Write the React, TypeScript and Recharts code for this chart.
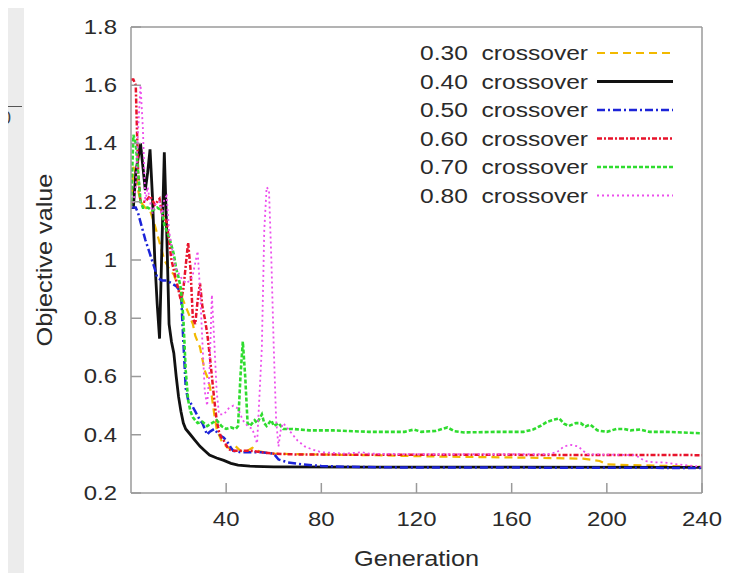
import { LineChart, Line, XAxis, YAxis, Legend, Label } from "recharts";

const RATES = ["0.30", "0.40", "0.50", "0.60", "0.70", "0.80"];
const GEN_TICKS = [40, 80, 120, 160, 200, 240];
const OBJ_TICKS = [0.2, 0.4, 0.6, 0.8, 1, 1.2, 1.4, 1.6, 1.8];

// [generation, objective value]
const cx30: [number, number][] = [
  [0, 1.18], [1, 1.32], [2, 1.3], [3, 1.24], [4, 1.2], [6, 1.18], [8, 1.17], [10, 1.12],
  [12, 1.06], [14, 1.0], [16, 0.97], [18, 0.95], [20, 0.9], [22, 0.86], [24, 0.82], [26, 0.78],
  [27, 0.74], [28, 0.72], [29, 0.7], [30, 0.66], [31, 0.62], [32, 0.6], [33, 0.57], [34, 0.53],
  [35, 0.47], [36, 0.42], [37, 0.4], [38, 0.38], [40, 0.36], [42, 0.35], [44, 0.36], [46, 0.345],
  [48, 0.34], [51, 0.355], [53, 0.345], [56, 0.34], [60, 0.335], [80, 0.332], [100, 0.33],
  [130, 0.325], [160, 0.322], [190, 0.318], [197, 0.31], [200, 0.298], [220, 0.294], [240, 0.29],
];
const cx40: [number, number][] = [
  [0, 1.18], [1, 1.18], [2, 1.3], [4, 1.4], [5, 1.32], [6, 1.24], [7, 1.3], [8, 1.38], [9, 1.22],
  [10, 1.0], [11, 0.85], [12, 0.73], [13, 1.05], [14, 1.37], [15, 1.1], [16, 0.78], [17, 0.72],
  [18, 0.68], [19, 0.6], [20, 0.53], [21, 0.48], [22, 0.44], [23, 0.42], [25, 0.4], [27, 0.38],
  [29, 0.36], [31, 0.345], [33, 0.33], [36, 0.32], [39, 0.312], [42, 0.302], [45, 0.296],
  [50, 0.292], [60, 0.29], [100, 0.289], [240, 0.288],
];
const cx50: [number, number][] = [
  [0, 1.18], [2, 1.18], [3, 1.16], [4, 1.13], [6, 1.07], [8, 1.02], [10, 0.97], [11, 0.94],
  [13, 0.93], [15, 0.93], [17, 0.92], [19, 0.91], [21, 0.89], [22, 0.72], [23, 0.56], [24, 0.52],
  [25, 0.51], [27, 0.48], [29, 0.45], [30, 0.44], [32, 0.4], [33, 0.41], [35, 0.42], [36, 0.41],
  [37, 0.4], [39, 0.39], [41, 0.37], [42, 0.355], [43, 0.345], [46, 0.34], [50, 0.34], [55, 0.34],
  [60, 0.335], [62, 0.315], [66, 0.305], [72, 0.298], [80, 0.293], [90, 0.29], [110, 0.288],
  [240, 0.286],
];
const cx60: [number, number][] = [
  [0, 1.62], [1, 1.62], [2, 1.6], [3, 1.3], [4, 1.2], [6, 1.2], [8, 1.22], [10, 1.19], [12, 1.21],
  [13, 1.16], [15, 1.13], [17, 1.0], [19, 0.93], [21, 0.86], [22, 0.9], [24, 1.06], [25, 0.97],
  [26, 0.8], [27, 0.78], [28, 0.86], [29, 0.92], [30, 0.84], [31, 0.8], [32, 0.75], [33, 0.68],
  [34, 0.6], [35, 0.52], [36, 0.45], [37, 0.41], [38, 0.39], [39, 0.38], [40, 0.365], [41, 0.35],
  [43, 0.345], [50, 0.345], [55, 0.34], [60, 0.335], [70, 0.332], [240, 0.33],
];
const cx70: [number, number][] = [
  [0, 1.18], [1, 1.43], [2, 1.4], [3, 1.3], [4, 1.2], [5, 1.18], [7, 1.18], [9, 1.17], [11, 1.18],
  [13, 1.17], [14, 1.12], [16, 1.08], [18, 1.02], [19, 0.97], [20, 0.94], [21, 0.9], [22, 0.8],
  [23, 0.62], [24, 0.52], [25, 0.48], [26, 0.46], [27, 0.45], [28, 0.44], [30, 0.445], [32, 0.43],
  [34, 0.44], [36, 0.45], [38, 0.43], [40, 0.42], [42, 0.425], [44, 0.42], [45, 0.43], [46, 0.6],
  [47, 0.72], [48, 0.6], [49, 0.44], [50, 0.43], [52, 0.45], [53, 0.44], [55, 0.47], [56, 0.44],
  [57, 0.43], [59, 0.45], [60, 0.43], [62, 0.44], [64, 0.42], [68, 0.42], [75, 0.415], [85, 0.415],
  [100, 0.41], [115, 0.41], [119, 0.418], [122, 0.41], [128, 0.413], [133, 0.425], [136, 0.412],
  [140, 0.408], [155, 0.41], [165, 0.41], [169, 0.418], [172, 0.43], [175, 0.445], [178, 0.452],
  [180, 0.456], [182, 0.438], [184, 0.43], [187, 0.44], [189, 0.44], [191, 0.428], [193, 0.435],
  [196, 0.415], [200, 0.41], [204, 0.42], [207, 0.42], [210, 0.415], [214, 0.418], [218, 0.41],
  [225, 0.41], [240, 0.405],
];
const cx80: [number, number][] = [
  [0, 1.18], [1, 1.2], [2, 1.25], [3, 1.45], [4, 1.6], [5, 1.45], [6, 1.2], [7, 1.25], [8, 1.2],
  [9, 1.16], [10, 1.19], [12, 1.2], [13, 1.15], [14, 1.21], [15, 1.22], [16, 1.1], [17, 1.05],
  [18, 1.0], [19, 0.97], [21, 0.94], [23, 0.92], [25, 0.93], [26, 0.95], [28, 1.03], [29, 0.9],
  [30, 0.72], [31, 0.55], [32, 0.5], [33, 0.62], [34, 0.88], [35, 0.72], [36, 0.55], [37, 0.47],
  [39, 0.47], [41, 0.49], [43, 0.5], [45, 0.49], [47, 0.45], [49, 0.43], [51, 0.42], [53, 0.37],
  [55, 0.7], [56, 1.1], [57, 1.25], [58, 1.24], [59, 1.0], [60, 0.7], [61, 0.45], [62, 0.36],
  [63, 0.42], [64, 0.44], [66, 0.42], [68, 0.4], [70, 0.38], [73, 0.36], [76, 0.35], [80, 0.34],
  [90, 0.335], [97, 0.34], [100, 0.335], [120, 0.333], [150, 0.333], [175, 0.333], [179, 0.34],
  [182, 0.36], [185, 0.365], [188, 0.36], [190, 0.345], [192, 0.333], [212, 0.33], [216, 0.31],
  [220, 0.305], [224, 0.305], [228, 0.3], [240, 0.29],
];

const SERIES = [cx30, cx40, cx50, cx60, cx70, cx80];

const STYLES = [
  { color: "#f2b900", dash: "8 5", width: 2.2 },
  { color: "#111111", dash: undefined, width: 2.8 },
  { color: "#1c24d8", dash: "8 3 2 3", width: 2.5 },
  { color: "#e8132b", dash: "5 2 2 2", width: 2.5 },
  { color: "#2fdc2f", dash: "4 2", width: 2.6 },
  { color: "#ec4eec", dash: "2 3", width: 1.8 },
];

const FONT = '"Liberation Sans", Arial, sans-serif';
const AXIS = "#9a9a9a";

const fmt = (v: number) => String(Number(v.toFixed(1)));

function XTick({ x, y, payload }: any) {
  return (
    <g transform={`translate(${x},${y})`}>
      <text transform="scale(1.14,1)" textAnchor="middle" dominantBaseline="central"
        fontSize={21} fontFamily={FONT} fill="#2a2a2a">
        {payload.value}
      </text>
    </g>
  );
}

function YTick({ x, y, payload }: any) {
  return (
    <g transform={`translate(${x},${y})`}>
      <text transform="scale(1.14,1)" textAnchor="end" dominantBaseline="central"
        fontSize={21} fontFamily={FONT} fill="#2a2a2a">
        {fmt(payload.value)}
      </text>
    </g>
  );
}

function XTitle({ viewBox }: any) {
  const cx = viewBox.x + viewBox.width / 2;
  return (
    <g transform={`translate(${cx},${viewBox.y + 66})`}>
      <text transform="scale(1.15,1)" textAnchor="middle" dominantBaseline="central"
        fontSize={22} fontFamily={FONT} fill="#2a2a2a">Generation</text>
    </g>
  );
}

function YTitle({ viewBox }: any) {
  const cy = viewBox.y + viewBox.height / 2;
  return (
    <g transform={`translate(${viewBox.x - 16},${cy}) rotate(-90)`}>
      <text transform="scale(1.15,1)" textAnchor="middle" dominantBaseline="central"
        fontSize={22} fontFamily={FONT} fill="#2a2a2a">Objective value</text>
    </g>
  );
}

function LegendBox() {
  return (
    <svg width={300} height={180}>
      {RATES.map((r, i) => {
        const y = 17 + i * 28.5;
        const s = STYLES[i];
        return (
          <g key={r}>
            <g transform={`translate(188,${y})`}>
              <text transform="scale(1.17,1)" textAnchor="end" dominantBaseline="central"
                fontSize={21} fontFamily={FONT} fill="#2a2a2a" style={{ whiteSpace: "pre" }}>
                {`${r}  crossover`}
              </text>
            </g>
            <line x1={197} x2={273} y1={y} y2={y} stroke={s.color}
              strokeWidth={s.width} strokeDasharray={s.dash} />
          </g>
        );
      })}
    </svg>
  );
}

export default function App() {
  return (
    <div style={{ position: "relative", width: 753, height: 581, margin: -8, background: "#ececec", overflow: "hidden" }}>
      <div style={{ position: "absolute", left: 24, top: 5, right: 0, bottom: 0, background: "#fff" }} />
      <div style={{ position: "absolute", left: 0, top: 106, width: 22, borderTop: "1.5px solid #555" }} />
      <div style={{ position: "absolute", left: 1, top: 108, fontFamily: FONT, fontSize: 18, lineHeight: "20px", color: "#444" }}>0</div>
      <div style={{ position: "absolute", left: 0, top: 0 }}>
        <LineChart width={753} height={581} margin={{ top: 26, right: 50, bottom: 28, left: 61 }}>
          <XAxis xAxisId="b" type="number" dataKey="g" domain={[0, 240]} ticks={GEN_TICKS}
            allowDataOverflow height={60} tickSize={-10} tickMargin={36} tick={<XTick />}
            axisLine={{ stroke: AXIS, strokeWidth: 1.5 }} tickLine={{ stroke: AXIS, strokeWidth: 1.5 }}>
            <Label content={<XTitle />} />
          </XAxis>
          <XAxis xAxisId="t" orientation="top" type="number" domain={[0, 240]} ticks={GEN_TICKS}
            allowDataOverflow height={1} tickSize={-10} tick={false}
            axisLine={{ stroke: AXIS, strokeWidth: 1.5 }} tickLine={{ stroke: AXIS, strokeWidth: 1.5 }} />
          <YAxis yAxisId="l" type="number" domain={[0.2, 1.8]} ticks={OBJ_TICKS}
            allowDataOverflow width={70} tickSize={-10} tickMargin={24} tick={<YTick />}
            axisLine={{ stroke: AXIS, strokeWidth: 1.5 }} tickLine={{ stroke: AXIS, strokeWidth: 1.5 }}>
            <Label content={<YTitle />} />
          </YAxis>
          <YAxis yAxisId="r" orientation="right" type="number" domain={[0.2, 1.8]} ticks={OBJ_TICKS}
            allowDataOverflow width={1} tickSize={-10} tick={false}
            axisLine={{ stroke: AXIS, strokeWidth: 1.5 }} tickLine={{ stroke: AXIS, strokeWidth: 1.5 }} />
          <Legend layout="vertical" align="center" verticalAlign="middle" content={<LegendBox />}
            wrapperStyle={{ position: "absolute", left: 400, top: 36, width: 300, height: 180 }} />
          {SERIES.map((pts, i) => (
            <Line key={RATES[i]} xAxisId="b" yAxisId="l" name={`${RATES[i]} crossover`}
              data={pts.map(([g, v]) => ({ g, v }))} dataKey="v" type="linear"
              stroke={STYLES[i].color} strokeWidth={STYLES[i].width}
              strokeDasharray={STYLES[i].dash} dot={false} activeDot={false}
              isAnimationActive={false} />
          ))}
        </LineChart>
      </div>
    </div>
  );
}
